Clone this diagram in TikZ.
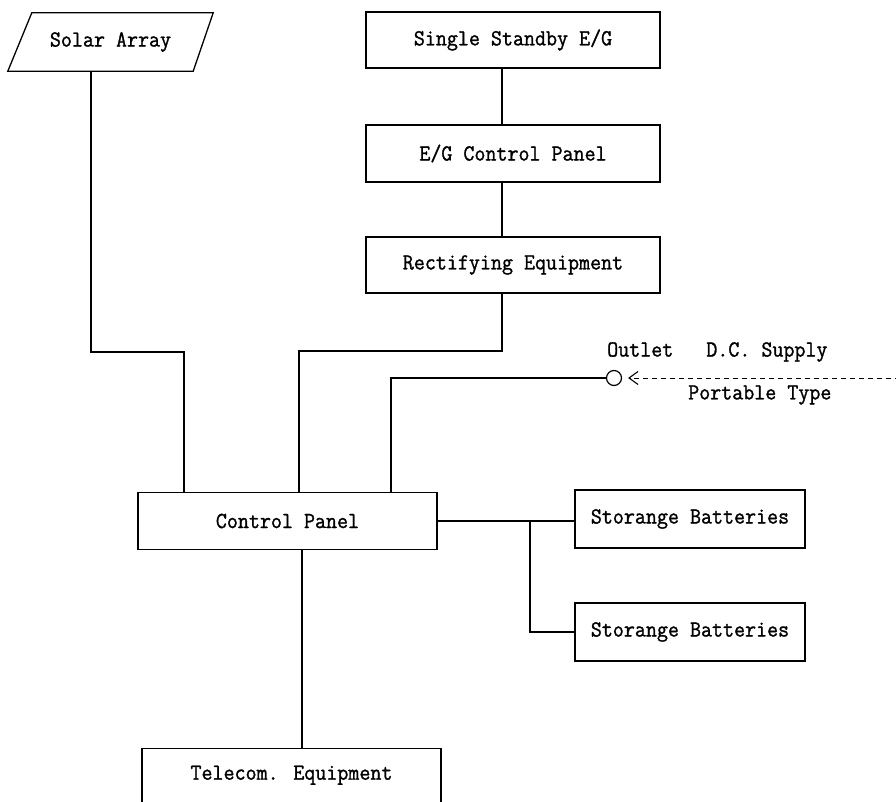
\documentclass[tikz,border=0pt]{standalone}
\usepackage{fontspec}
\newfontfamily\boxmono{Latin Modern Mono}[FakeBold=1.2, FakeStretch=0.93]
\usetikzlibrary{calc,arrows.meta}
\tikzset{
  lbl/.style={font=\boxmono\fontsize{23}{26}\selectfont},
  box/.style={draw, line width=1.3pt, rectangle, inner sep=0pt, lbl},
  wire/.style={line width=1.3pt},
}
\begin{document}
\begin{tikzpicture}[x=1pt,y=-1pt]
\clip (0,0) rectangle (896,802);
\fill[white] (0,0) rectangle (896,802);
% nodes
\node[lbl, minimum width=205pt, minimum height=58pt, inner sep=0pt] (solar) at (110.5,42) {Solar Array};
\draw[wire] ($(solar.north west)+(24,0)$) -- (solar.north east) -- ($(solar.south east)+(-20,0)$) -- (solar.south west) -- cycle;
\node[box, minimum width=294pt, minimum height=56pt] (standby) at (513,40) {Single Standby E/G};
\node[box, minimum width=294pt, minimum height=57pt] (egpanel) at (513,153.5) {E/G Control Panel};
\node[box, minimum width=294pt, minimum height=56pt] (rect) at (513,265) {Rectifying Equipment};
\node[box, minimum width=299pt, minimum height=57pt] (control) at (287.5,521) {Control Panel};
\node[box, minimum width=230pt, minimum height=58pt] (bat1) at (690,519) {Storange Batteries};
\node[box, minimum width=230pt, minimum height=58pt] (bat2) at (690,632) {Storange Batteries};
\node[box, anchor=north, minimum width=299pt, inner ysep=17pt, text depth=50pt] (telecom) at (291.5,748) {Telecom. Equipment};
\node[draw, circle, line width=1.2pt, minimum size=15pt, inner sep=0pt] (outlet) at (614,378) {};
\node[lbl, anchor=west, inner sep=0pt] (outlbl) at (607,352) {Outlet\ \ \ D.C. Supply};
\node[lbl, anchor=west, inner sep=0pt] (porttype) at (688,395) {Portable Type};
% coordinates
\coordinate (s1) at (91,352);
\coordinate (c1) at (184,352);
\coordinate (v1) at (502,0);
\coordinate (b3) at (299,351);
\coordinate (o1) at (391,378);
\coordinate (j) at (530,0);
\coordinate (v2) at (302,0);
\coordinate (dcfar) at (900,378);
% connectors
\draw[wire] (s1 |- solar.south) -- (s1) -- (c1) -- (c1 |- control.north);
\draw[wire] (v1 |- standby.south) -- (v1 |- egpanel.north);
\draw[wire] (v1 |- egpanel.south) -- (v1 |- rect.north);
\draw[wire] (v1 |- rect.south) -- (v1 |- b3) -- (b3) -- (b3 |- control.north);
\draw[wire] (outlet.west) -- (o1) -- (o1 |- control.north);
\draw[wire] (control.east) -- (control.east -| bat1.west);
\draw[wire] (j |- control.east) -- (j |- bat2.west) -- (bat2.west);
\draw[wire] (v2 |- control.south) -- (v2 |- telecom.north);
\draw[line width=1pt, dash pattern=on 5pt off 4pt, -{Straight Barb[length=9pt,width=13pt,line width=1.1pt]}, shorten >=6pt] (dcfar) -- (outlet.east);
\end{tikzpicture}
\end{document}
